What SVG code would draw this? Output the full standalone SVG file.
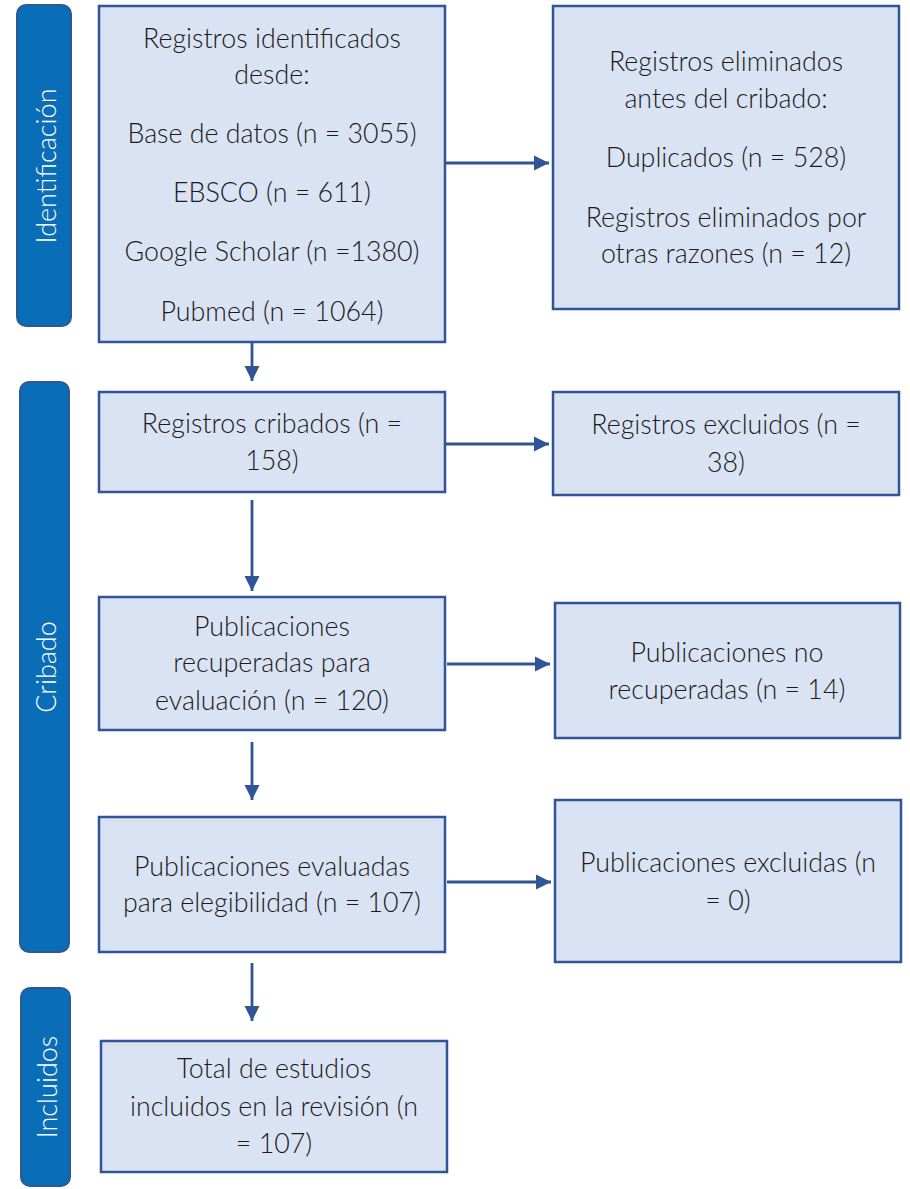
<svg xmlns="http://www.w3.org/2000/svg" width="910" height="1189" viewBox="0 0 910 1189">
<defs>
<marker id="ah" viewBox="0 0 10 10" refX="10" refY="5" markerWidth="5.5" markerHeight="5.5" markerUnits="strokeWidth" orient="auto">
<path d="M0,0 L10,5 L0,10 Z" fill="#2F5597"/>
</marker>
<style>
.box{fill:#DAE3F3;stroke:#2F5597;stroke-width:2.5}
.bar{fill:#0A6DB7;stroke:#2E5A94;stroke-width:2}
.t{font-family:Lato,"Open Sans","Liberation Sans",sans-serif;font-weight:300;font-size:26.8px;fill:#1a1a1a;text-anchor:middle}
.s{font-family:Lato,"Open Sans","Liberation Sans",sans-serif;font-weight:300;font-size:27px;fill:#ffffff;text-anchor:middle;dominant-baseline:central}
.c{stroke:#2F5597;stroke-width:2.8;fill:none;marker-end:url(#ah)}
</style>
</defs>
<rect width="910" height="1189" fill="#ffffff"/>
<g id="phase-identificacion">
<rect class="bar" x="17" y="5" width="54" height="321" rx="9"/>
<text class="s" transform="translate(45,166) rotate(-90)">Identificación</text>
</g>
<g id="phase-cribado">
<rect class="bar" x="20" y="382" width="49" height="570" rx="9"/>
<text class="s" transform="translate(45,667) rotate(-90)">Cribado</text>
</g>
<g id="phase-incluidos">
<rect class="bar" x="21" y="988" width="49" height="198" rx="9"/>
<text class="s" transform="translate(46,1087) rotate(-90)">Incluidos</text>
</g>
<g id="n1">
<rect class="box" x="99" y="6" width="346" height="336"/>
<text class="t" x="272" y="48">Registros identificados</text>
<text class="t" x="272" y="84">desde:</text>
<text class="t" x="272" y="143">Base de datos (n = 3055)</text>
<text class="t" x="272" y="202">EBSCO (n = 611)</text>
<text class="t" x="272" y="261">Google Scholar (n =1380)</text>
<text class="t" x="272" y="321">Pubmed (n = 1064)</text>
</g>
<g id="n2">
<rect class="box" x="553" y="6" width="346" height="303"/>
<text class="t" x="726" y="71">Registros eliminados</text>
<text class="t" x="726" y="108">antes del cribado:</text>
<text class="t" x="726" y="167">Duplicados (n = 528)</text>
<text class="t" x="726" y="227">Registros eliminados por</text>
<text class="t" x="726" y="263">otras razones (n = 12)</text>
</g>
<g id="n3">
<rect class="box" x="99" y="392" width="346" height="100"/>
<text class="t" x="272" y="433">Registros cribados (n =</text>
<text class="t" x="272" y="470">158)</text>
</g>
<g id="n4">
<rect class="box" x="553" y="392" width="346" height="103"/>
<text class="t" x="726" y="434">Registros excluidos (n =</text>
<text class="t" x="726" y="472">38)</text>
</g>
<g id="n5">
<rect class="box" x="99" y="597" width="346" height="133"/>
<text class="t" x="272" y="636">Publicaciones</text>
<text class="t" x="272" y="672">recuperadas para</text>
<text class="t" x="272" y="710">evaluación (n = 120)</text>
</g>
<g id="n6">
<rect class="box" x="555" y="603" width="345" height="135"/>
<text class="t" x="727" y="662">Publicaciones no</text>
<text class="t" x="727" y="699">recuperadas (n = 14)</text>
</g>
<g id="n7">
<rect class="box" x="99" y="817" width="346" height="135"/>
<text class="t" x="272" y="876">Publicaciones evaluadas</text>
<text class="t" x="272" y="912">para elegibilidad (n = 107)</text>
</g>
<g id="n8">
<rect class="box" x="555" y="800" width="346" height="162"/>
<text class="t" x="728" y="872">Publicaciones excluidas (n</text>
<text class="t" x="728" y="910">= 0)</text>
</g>
<g id="n9">
<rect class="box" x="101" y="1041" width="346" height="131"/>
<text class="t" x="274" y="1078">Total de estudios</text>
<text class="t" x="274" y="1116">incluidos en la revisión (n</text>
<text class="t" x="274" y="1153">= 107)</text>
</g>
<g id="connectors">
<line class="c" x1="445" y1="163" x2="549" y2="163"/>
<line class="c" x1="252" y1="342" x2="252" y2="381"/>
<line class="c" x1="445" y1="444" x2="549" y2="444"/>
<line class="c" x1="252" y1="500" x2="252" y2="591"/>
<line class="c" x1="447" y1="664" x2="550" y2="664"/>
<line class="c" x1="252" y1="742" x2="252" y2="800"/>
<line class="c" x1="447" y1="882" x2="551" y2="882"/>
<line class="c" x1="252" y1="963" x2="252" y2="1021"/>
</g>
</svg>
